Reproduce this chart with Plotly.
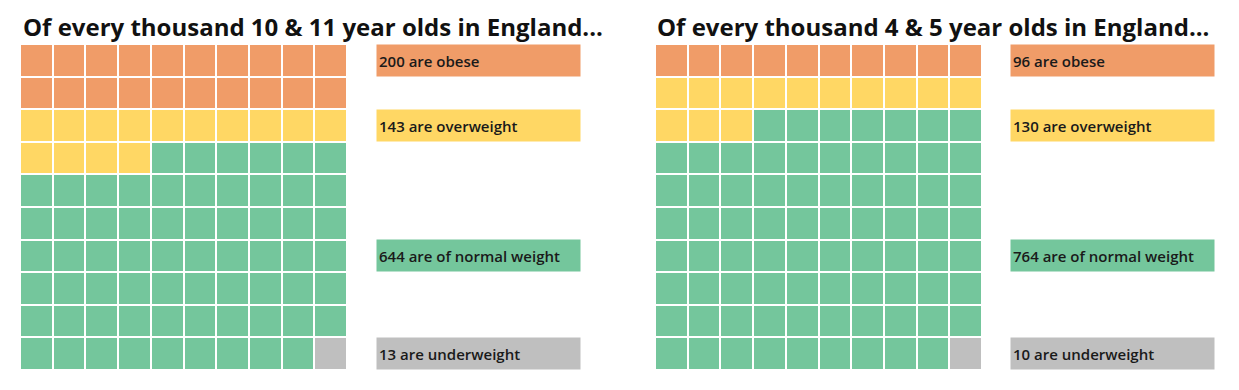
import plotly.graph_objects as go

categories = ["obese", "overweight", "normal", "underweight"]
colors = ["#F09C68", "#FFD764", "#74C69C", "#BFBFBF"]

titles = ["Of every thousand 10 & 11 year olds in England...",
          "Of every thousand 4 & 5 year olds in England..."]
counts_10_11 = [200, 143, 644, 13]
counts_4_5 = [96, 130, 764, 10]
squares_10_11 = [20, 14, 65, 1]
squares_4_5 = [10, 13, 76, 1]
label_texts_10_11 = ["200 are obese", "143 are overweight", "644 are of normal weight", "13 are underweight"]
label_texts_4_5 = ["96 are obese", "130 are overweight", "764 are of normal weight", "10 are underweight"]
label_rows = [0, 2, 6, 9]

OFF = 8  # default page body margin
W, H = 1239 - 2 * OFF, 390 - 2 * OFF
fig = go.Figure()

panels = [
    dict(squares=squares_10_11, labels=label_texts_10_11, title=titles[0],
         x0=20, x1=347, lx=376, lw=203, tx=313),
    dict(squares=squares_4_5, labels=label_texts_4_5, title=titles[1],
         x0=655, x1=982, lx=1010, lw=203, tx=933),
]

y_top, y_bot = 44, 370
n = len(categories)
colorscale = []
for i, c in enumerate(colors):
    colorscale.append([i / n, c])
    colorscale.append([(i + 1) / n, c])


def px_x(v):
    return (v - OFF) / W


def px_y(v):
    return 1 - (v - OFF) / H


annotations = []
for k, p in enumerate(panels):
    suffix = "" if k == 0 else "2"
    cells = []
    for ci, s in enumerate(p["squares"]):
        cells += [ci] * s
    z = [cells[r * 10:(r + 1) * 10] for r in range(10)]
    fig.add_trace(go.Heatmap(
        z=z, x=list(range(10)), y=list(range(10)),
        zmin=0, zmax=n, colorscale=colorscale, showscale=False,
        xgap=2, ygap=2, hoverinfo="skip",
        xaxis="x" + suffix, yaxis="y" + suffix))
    fig.update_layout(**{
        "xaxis" + suffix: dict(domain=[px_x(p["x0"]), px_x(p["x1"])], visible=False,
                               range=[-0.5, 9.5], fixedrange=True),
        "yaxis" + suffix: dict(domain=[px_y(y_bot), px_y(y_top)], visible=False,
                               range=[9.5, -0.5], fixedrange=True),
    })
    for ci, row in enumerate(label_rows):
        annotations.append(dict(
            x=px_x(p["lx"]), xref="paper", xanchor="left",
            y=row, yref="y" + suffix, yanchor="middle",
            text=p["labels"][ci], showarrow=False, align="left",
            width=p["lw"] - 4, height=27, bgcolor=colors[ci], borderpad=2,
            font=dict(family="Open Sans", size=15, color="#1a1a1a", weight=600)))
    annotations.append(dict(
        x=px_x(p["tx"]), xref="paper", xanchor="center",
        y=px_y(27), yref="paper", yanchor="middle",
        text=p["title"], showarrow=False,
        font=dict(family="Open Sans", size=24, color="#111111", weight=700)))

fig.update_layout(width=W, height=H, margin=dict(l=0, r=0, t=0, b=0),
                  paper_bgcolor="white", plot_bgcolor="white",
                  annotations=annotations, showlegend=False)
fig.write_html("out.html")
